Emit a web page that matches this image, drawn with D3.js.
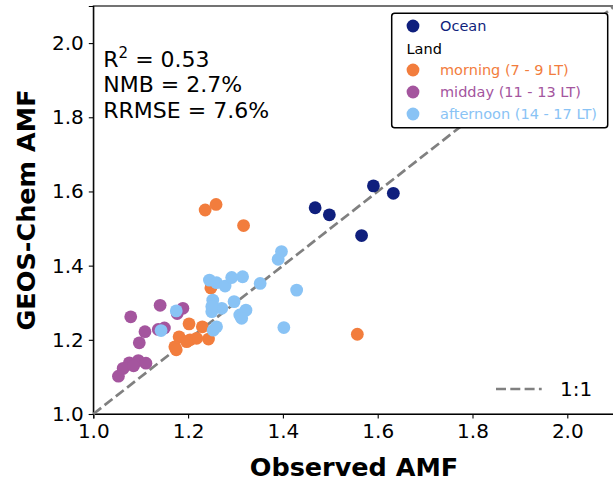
<!DOCTYPE html>
<meta charset="utf-8">
<style>
body { margin: 0; background: #fff; }
svg { font-family: "DejaVu Sans", sans-serif; }
.tick text { font-size: 20px; fill: #000; }
.tick line, .domain { stroke: #000; stroke-width: 1.1px; }
.axis-label { font-size: 25.5px; font-weight: bold; }
.stats { font-size: 22px; }
.legend text { font-size: 14.5px; }
</style>
<svg width="613" height="484"></svg>
<script src="https://d3js.org/d3.v7.min.js"></script>
<script>
// observed (x) vs GEOS-Chem (y) AMF per group
var oceanObs = [1.468, 1.498, 1.591, 1.633, 1.566];
var oceanMod = [1.556, 1.537, 1.615, 1.595, 1.481];

var morningObs = [1.236, 1.259, 1.317, 1.248, 1.202, 1.230, 1.181, 1.204, 1.218, 1.243, 1.172, 1.175, 1.197, 1.557];
var morningMod = [1.550, 1.565, 1.508, 1.340, 1.243, 1.235, 1.208, 1.200, 1.204, 1.202, 1.181, 1.173, 1.195, 1.215];

var middayObs = [1.079, 1.141, 1.189, 1.177, 1.109, 1.137, 1.097, 1.076, 1.095, 1.111, 1.063, 1.053, 1.085, 1.150];
var middayMod = [1.262, 1.293, 1.285, 1.271, 1.222, 1.228, 1.192, 1.138, 1.144, 1.137, 1.123, 1.102, 1.130, 1.232];

var afternoonObs = [1.175, 1.143, 1.245, 1.260, 1.278, 1.292, 1.315, 1.352, 1.390, 1.397, 1.429, 1.402, 1.252, 1.250, 1.271, 1.297, 1.309, 1.322, 1.313, 1.253, 1.260, 1.250];
var afternoonMod = [1.278, 1.225, 1.361, 1.354, 1.345, 1.368, 1.370, 1.352, 1.417, 1.438, 1.334, 1.233, 1.307, 1.276, 1.285, 1.303, 1.267, 1.280, 1.258, 1.226, 1.235, 1.290];

var tickValues = [1.0, 1.2, 1.4, 1.6, 1.8, 2.0];
var statLines = [["R", "2", " = 0.53"], ["NMB = 2.7%"], ["RRMSE = 7.6%"]];

var groups = [
  {label: "Ocean", obs: oceanObs, mod: oceanMod, color: "#0f1f7d"},
  {label: "morning (7 - 9 LT)", obs: morningObs, mod: morningMod, color: "#f27d3d"},
  {label: "midday (11 - 13 LT)", obs: middayObs, mod: middayMod, color: "#a4559e"},
  {label: "afternoon (14 - 17 LT)", obs: afternoonObs, mod: afternoonMod, color: "#89c3f5"}
];

var svg = d3.select("svg"),
    margin = {left: 93.3, top: 6},
    width = 521.4,
    height = 408;

var x = d3.scaleLinear().domain([1.0, 2.1]).range([0, width]);
var y = d3.scaleLinear().domain([1.0, 2.1]).range([height, 0]);

var g = svg.append("g").attr("transform", "translate(" + margin.left + "," + margin.top + ")");

// frame
g.append("rect").attr("width", width).attr("height", height)
  .attr("fill", "none").attr("stroke", "#000").attr("stroke-width", 1.1);

g.append("g").attr("transform", "translate(0," + height + ")")
  .call(d3.axisBottom(x).tickValues(tickValues).tickFormat(d3.format(".1f")).tickSize(4.5).tickPadding(5));
g.append("g")
  .call(d3.axisLeft(y).tickValues(tickValues).tickFormat(d3.format(".1f")).tickSize(4.5).tickPadding(5));
g.selectAll(".tick text").attr("font-family", "DejaVu Sans");

// 1:1 line
g.append("line")
  .attr("x1", x(1.0)).attr("y1", y(1.0)).attr("x2", x(2.1)).attr("y2", y(2.1))
  .attr("stroke", "#808080").attr("stroke-width", 2.7).attr("stroke-dasharray", "10,4.3");

var pts = g.append("g");
groups.forEach(function(grp) {
  pts.selectAll(null)
    .data(grp.obs.map(function(v, i) { return [v, grp.mod[i]]; }))
    .enter().append("circle")
    .attr("cx", function(d) { return x(d[0]); })
    .attr("cy", function(d) { return y(d[1]); })
    .attr("r", 6.4)
    .attr("fill", grp.color);
});

// stats
var st = g.append("text").attr("class", "stats").attr("x", 10).attr("y", 60.7);
statLines.forEach(function(parts, i) {
  if (parts.length == 3) {
    st.append("tspan").attr("x", 10).attr("y", 60.7).text(parts[0]);
    st.append("tspan").attr("dy", -9).attr("font-size", "15px").text(parts[1]);
    st.append("tspan").attr("dy", 9).text(parts[2]);
  } else {
    st.append("tspan").attr("x", 10).attr("y", 60.7 + i * 25.5).text(parts[0]);
  }
});

// legend
var lg = svg.append("g").attr("class", "legend");
lg.append("rect").attr("x", 391.7).attr("y", 13.3).attr("width", 216).attr("height", 114.4)
  .attr("rx", 3).attr("fill", "#fff").attr("stroke", "#000").attr("stroke-width", 1.5);
var rowsY = [26, 70, 92, 114];
groups.forEach(function(grp, i) {
  lg.append("circle").attr("cx", 413).attr("cy", rowsY[i]).attr("r", 6.4).attr("fill", grp.color);
  lg.append("text").attr("x", 440).attr("y", rowsY[i]).attr("dy", "0.36em")
    .attr("fill", grp.color).text(grp.label);
});
lg.append("text").attr("x", 406.5).attr("y", 49).attr("dy", "0.36em").text("Land");

// 1:1 legend
svg.append("line").attr("x1", 496).attr("x2", 541.7).attr("y1", 389).attr("y2", 389)
  .attr("stroke", "#808080").attr("stroke-width", 2.7).attr("stroke-dasharray", "10,4.3");
svg.append("text").attr("x", 560).attr("y", 389).attr("dy", "0.36em")
  .attr("font-size", "20px").text("1:1");

// axis labels
svg.append("text").attr("class", "axis-label").attr("text-anchor", "middle")
  .attr("x", margin.left + width / 2).attr("y", 476).text("Observed AMF");
svg.append("text").attr("class", "axis-label").attr("text-anchor", "middle")
  .attr("transform", "translate(35," + (margin.top + height / 2) + ") rotate(-90)")
  .text("GEOS-Chem AMF");
</script>
